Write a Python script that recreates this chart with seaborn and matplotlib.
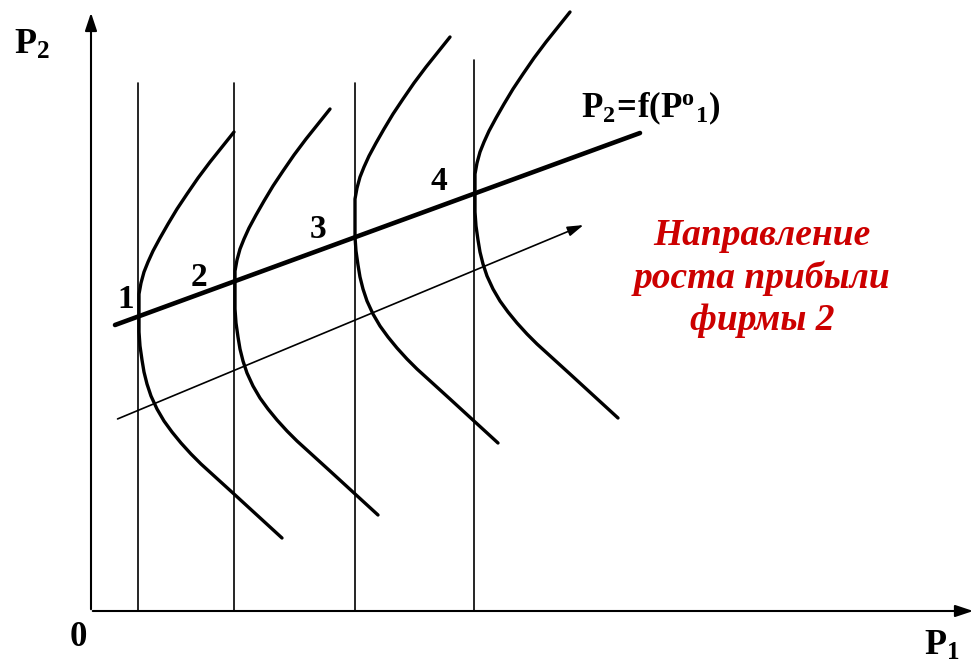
import matplotlib
matplotlib.use("Agg")
import matplotlib.pyplot as plt
import seaborn as sns
import pandas as pd

# координаты в пикселях исходной картинки (y вниз)
origin = (91, 611)
x_axis_end = 976
y_axis_end = 10

# вертикальные линии (P1 фиксирована)
vline_x = [138, 234, 355, 474]
vline_top = [83, 83, 83, 60]

# кривые равной прибыли фирмы 2
curve1_x = [234, 222, 210, 198, 187, 177, 168, 160, 153, 148, 144, 141, 139, 139, 139, 139, 140, 142, 144, 147,
            151, 157, 164, 172, 181, 191, 201, 212, 223, 234, 246, 258, 270, 282]
curve1_y = [132, 147, 162, 178, 194, 209, 224, 238, 251, 262, 272, 283, 294, 305, 318, 332, 346, 360, 372, 384,
            396, 409, 421, 432, 443, 454, 464, 474, 484, 494, 505, 516, 527, 538]
curve2_x = [330, 318, 306, 294, 283, 273, 264, 256, 249, 244, 240, 237, 235, 235, 235, 235, 236, 238, 240, 243,
            247, 253, 260, 268, 277, 287, 297, 308, 319, 330, 342, 354, 366, 378]
curve2_y = [109, 124, 139, 155, 171, 186, 201, 215, 228, 239, 249, 260, 271, 282, 295, 309, 323, 337, 349, 361,
            373, 386, 398, 409, 420, 431, 441, 451, 461, 471, 482, 493, 504, 515]
curve3_x = [450, 438, 426, 414, 403, 393, 384, 376, 369, 364, 360, 357, 355, 355, 355, 355, 356, 358, 360, 363,
            367, 373, 380, 388, 397, 407, 417, 428, 439, 450, 462, 474, 486, 498]
curve3_y = [37, 52, 67, 83, 99, 114, 129, 143, 156, 167, 177, 188, 199, 210, 223, 237, 251, 265, 277, 289,
            301, 314, 326, 337, 348, 359, 369, 379, 389, 399, 410, 421, 432, 443]
curve4_x = [570, 558, 546, 534, 523, 513, 504, 496, 489, 484, 480, 477, 475, 475, 475, 475, 476, 478, 480, 483,
            487, 493, 500, 508, 517, 527, 537, 548, 559, 570, 582, 594, 606, 618]
curve4_y = [12, 27, 42, 58, 74, 89, 104, 118, 131, 142, 152, 163, 174, 185, 198, 212, 226, 240, 252, 264,
            276, 289, 301, 312, 323, 334, 344, 354, 364, 374, 385, 396, 407, 418]
curves = [(curve1_x, curve1_y), (curve2_x, curve2_y), (curve3_x, curve3_y), (curve4_x, curve4_y)]

# линия реакции P2 = f(P1)
reaction_x = [115, 640]
reaction_y = [325, 133]

# направление роста прибыли
arrow_start = (115, 420)
arrow_end = (586, 224)

point_labels = ["1", "2", "3", "4"]
point_label_x = [126, 199, 318, 439]
point_label_y = [300, 277, 229, 182]

sns.set_theme(style="white")
plt.rcParams["font.family"] = ["Liberation Serif", "DejaVu Serif"]
plt.rcParams["text.color"] = "black"
plt.rcParams["mathtext.fontset"] = "custom"
plt.rcParams["mathtext.rm"] = "Liberation Serif:bold"
plt.rcParams["mathtext.bf"] = "Liberation Serif:bold"
plt.rcParams["mathtext.it"] = "Liberation Serif:bold"

fig = plt.figure(figsize=(9.8, 6.71), dpi=100)
ax = fig.add_axes([0, 0, 1, 1])
ax.set_xlim(0, 980)
ax.set_ylim(671, 0)
ax.axis("off")

# оси
ax.annotate("", xy=(x_axis_end, origin[1]), xytext=(origin[0] - 1, origin[1]),
            arrowprops=dict(arrowstyle="-|>,head_length=0.9,head_width=0.3", color="black", lw=1.5))
ax.annotate("", xy=(origin[0], y_axis_end), xytext=(origin[0], origin[1] + 1),
            arrowprops=dict(arrowstyle="-|>,head_length=0.9,head_width=0.3", color="black", lw=1.5))

for x, top in zip(vline_x, vline_top):
    ax.plot([x, x], [origin[1], top], color="black", lw=1.2)

for cx, cy in curves:
    df = pd.DataFrame({"x": cx, "y": cy})
    sns.lineplot(data=df, x="x", y="y", sort=False, estimator=None, color="black", lw=2.4, ax=ax)

sns.lineplot(x=reaction_x, y=reaction_y, color="black", lw=3.3, ax=ax)

ax.annotate("", xy=arrow_end, xytext=arrow_start,
            arrowprops=dict(arrowstyle="-|>,head_length=0.8,head_width=0.25", color="black", lw=1.2))

for t, x, y in zip(point_labels, point_label_x, point_label_y):
    ax.text(x, y, t, fontsize=24, fontweight="bold", ha="center", va="center")

ax.text(581, 108, r"$\mathbf{P_2\!=\!f(P^o{}_1)}$", fontsize=25, ha="left", va="center")
ax.text(14, 45, r"$\mathbf{P_2}$", fontsize=26, ha="left", va="center")
ax.text(924, 646, r"$\mathbf{P_1}$", fontsize=26, ha="left", va="center")
ax.text(78, 638, "0", fontsize=25, fontweight="bold", ha="center", va="center")

ax.text(762, 278, "Направление\nроста прибыли\nфирмы 2", fontsize=27, fontweight="bold",
        fontstyle="italic", color="#cc0000", ha="center", va="center", linespacing=1.27)

fig.savefig("out.png", dpi=100)
